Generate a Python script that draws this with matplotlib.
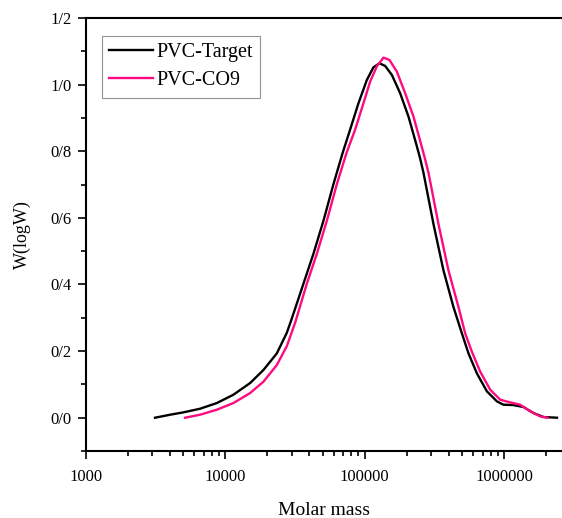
import numpy as np
import matplotlib
matplotlib.use("Agg")
import matplotlib.pyplot as plt
from matplotlib.ticker import FixedLocator, FixedFormatter, NullFormatter


# ---------------------------------------------------------
# Data
# ---------------------------------------------------------
target_mass = [3140, 4030, 5010, 6610, 8710, 11450, 15090, 18790, 23450,
               27670, 30060, 36390, 42930, 50630, 59730, 69530, 78700,
               90270, 103700, 115700, 127700, 140300, 156700, 179800,
               206200, 234200, 250100, 264200, 311600, 367500, 433500,
               498100, 555500, 638100, 752900, 888000, 990000, 1168000,
               1378000, 1625000, 1917000, 2392000]
target_w = [0.0, 0.009, 0.016, 0.027, 0.044, 0.069, 0.104, 0.143, 0.193,
            0.255, 0.298, 0.402, 0.492, 0.591, 0.701, 0.795, 0.865,
            0.944, 1.014, 1.052, 1.064, 1.056, 1.029, 0.974,
            0.904, 0.822, 0.778, 0.735, 0.581, 0.442, 0.332,
            0.253, 0.193, 0.133, 0.079, 0.049, 0.039, 0.038,
            0.032, 0.014, 0.002, 0.0]

co9_mass = [5155, 6610, 8710, 11450, 15090, 18790, 23450, 27670, 31730,
            38480, 45410, 53560, 63180, 74150, 85490, 98030, 109500,
            122300, 136500, 150600, 170200, 195200, 223900, 253500,
            271700, 287000, 338400, 399100, 470900, 526000, 587500,
            674300, 795000, 937600, 1106000, 1305000, 1539000, 1815000,
            2048000]
co9_w = [0.0, 0.009, 0.024, 0.044, 0.074, 0.108, 0.158, 0.215, 0.285,
         0.402, 0.492, 0.591, 0.701, 0.795, 0.865, 0.944, 1.009,
         1.055, 1.081, 1.074, 1.039, 0.974, 0.904, 0.822,
         0.775, 0.735, 0.581, 0.442, 0.332, 0.253, 0.198,
         0.138, 0.084, 0.054, 0.046, 0.039, 0.019, 0.004,
         0.0]

y_ticks = [0.0, 0.2, 0.4, 0.6, 0.8, 1.0, 1.2]
y_tick_labels = ["0/0", "0/2", "0/4", "0/6", "0/8", "1/0", "1/2"]
x_ticks = [1000, 10000, 100000, 1000000]
x_tick_labels = ["1000", "10000", "100000", "1000000"]


# ---------------------------------------------------------
# Plot
# ---------------------------------------------------------
plt.rcParams["font.family"] = ["Liberation Serif", "DejaVu Serif"]

fig = plt.figure(figsize=(5.62, 5.18), dpi=100)
ax = fig.add_axes([0.1525, 0.1293, 0.8475, 0.836])

ax.plot(target_mass, target_w, color="black", lw=1.7, label="PVC-Target",
        solid_joinstyle="round")
ax.plot(co9_mass, co9_w, color="#ff0a80", lw=1.7, label="PVC-CO9",
        solid_joinstyle="round")

ax.set_xscale("log")
ax.set_xlim(1000, 2.6e6)
ax.set_ylim(-0.1, 1.2)

ax.xaxis.set_major_locator(FixedLocator(x_ticks))
ax.xaxis.set_major_formatter(FixedFormatter(x_tick_labels))
ax.xaxis.set_minor_locator(FixedLocator(
    [m * 10 ** e for e in range(3, 7) for m in range(2, 10)]))
ax.xaxis.set_minor_formatter(NullFormatter())

ax.yaxis.set_major_locator(FixedLocator(y_ticks))
ax.yaxis.set_major_formatter(FixedFormatter(y_tick_labels))
ax.yaxis.set_minor_locator(FixedLocator(np.arange(-0.1, 1.21, 0.1)))

ax.tick_params(which="major", direction="out", length=6, width=1.2,
               labelsize=12)
ax.tick_params(axis="x", which="major", pad=7)
ax.tick_params(axis="y", which="major", pad=4)
ax.tick_params(which="minor", direction="out", length=3.5, width=1.2)
ax.tick_params(top=False, right=False, which="both")

for side in ["left", "bottom", "top"]:
    ax.spines[side].set_linewidth(1.5)
ax.spines["right"].set_visible(False)

ax.set_xlabel("Molar mass", fontsize=14, labelpad=12)
ax.set_ylabel("W(logW)", fontsize=13, labelpad=14)

leg = ax.legend(loc="upper left", bbox_to_anchor=(0.034, 0.958), fontsize=14.5,
                frameon=True, fancybox=False, handlelength=2.2,
                handletextpad=0.15, borderpad=0.35, labelspacing=0.45,
                borderaxespad=0)
leg.get_frame().set_edgecolor("#777777")
leg.get_frame().set_linewidth(0.8)

fig.savefig("out.png", dpi=100, facecolor="white")
